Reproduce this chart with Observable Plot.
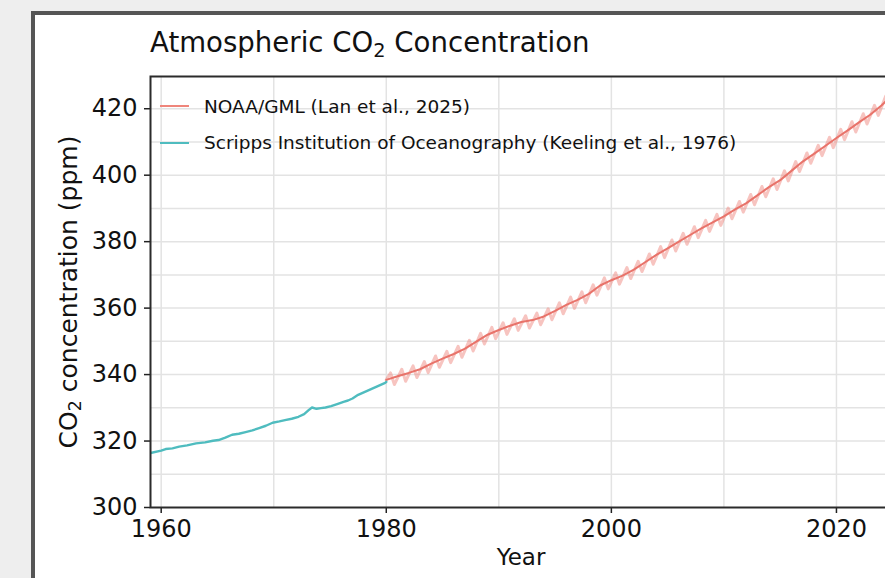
<!DOCTYPE html>
<html><head><meta charset="utf-8">
<script src="https://cdn.jsdelivr.net/npm/d3@7"></script>
<script src="https://cdn.jsdelivr.net/npm/@observablehq/plot@0.6"></script>
<style>
html,body{margin:0;padding:0;width:885px;height:578px;overflow:hidden;background:#eeeeee;font-family:"DejaVu Sans",sans-serif;}
#panel{position:absolute;left:31px;top:11px;width:1000px;height:700px;background:#fff;border:4px solid #555;box-sizing:border-box;}
#chart{position:absolute;left:0;top:0;width:960px;height:578px;}
#chart svg{max-width:none !important;width:960px;height:578px;}
.t{position:absolute;white-space:nowrap;color:#111;}
.t sub{font-size:70%;vertical-align:-0.25em;line-height:0;}
.lg{position:absolute;height:2px;width:29px;left:160px;}
</style></head><body>
<div id="panel"></div>
<div id="chart"></div>
<div class="t" style="left:150px;top:28.8px;font-size:27.6px;line-height:27.6px;">Atmospheric CO<sub>2</sub> Concentration</div>
<div class="t" style="left:68.4px;top:291.5px;font-size:25px;line-height:25px;transform:translate(-50%,-50%) rotate(-90deg);">CO<sub>2</sub> concentration (ppm)</div>
<div class="t" style="left:521px;top:545.5px;font-size:23px;line-height:23px;transform:translateX(-50%);">Year</div>
<div class="lg" style="top:105.3px;background:#ef857b;"></div>
<div class="t" style="left:204px;top:97.6px;font-size:18.5px;line-height:18.5px;">NOAA/GML (Lan et al., 2025)</div>
<div class="lg" style="top:141.7px;background:#4fbcbf;"></div>
<div class="t" style="left:204px;top:134px;font-size:18.5px;line-height:18.5px;">Scripps Institution of Oceanography (Keeling et al., 1976)</div>
<script>
// Scripps (Keeling et al., 1976)
const scrippsYear = [1959.05, 1960.0, 1960.4, 1961.0, 1961.6, 1962.3, 1963.1, 1963.9, 1964.6, 1965.1, 1965.7, 1966.3, 1966.9, 1967.5, 1968.1, 1968.7, 1969.3, 1969.9, 1970.5, 1971.0, 1971.6, 1972.2, 1972.7, 1973.1, 1973.4, 1973.8, 1974.2, 1974.6, 1975.1, 1975.7, 1976.2, 1976.6, 1977.0, 1977.5, 1978.1, 1978.7, 1979.3, 1979.9, 1980.0];
const scrippsCO2  = [316.4, 317.1, 317.6, 317.8, 318.3, 318.7, 319.3, 319.6, 320.1, 320.3, 321.0, 321.9, 322.2, 322.7, 323.2, 323.9, 324.6, 325.5, 325.9, 326.3, 326.7, 327.3, 328.1, 329.3, 330.1, 329.7, 329.9, 330.1, 330.5, 331.2, 331.8, 332.2, 332.8, 333.9, 334.8, 335.7, 336.6, 337.5, 337.8];

// NOAA/GML (Lan et al., 2025) — deseasonalized trend at the start of each year
const noaaYear  = [1980,1981,1982,1983,1984,1985,1986,1987,1988,1989,1990,1991,1992,1993,1994,1995,1996,1997,1998,1999,2000,2001,2002,2003,2004,2005,2006,2007,2008,2009,2010,2011,2012,2013,2014,2015,2016,2017,2018,2019,2020,2021,2022,2023,2024,2025];
const noaaTrend = [338.4,339.5,340.5,341.6,343.3,344.8,346.2,347.8,349.9,352.0,353.4,354.7,355.8,356.4,357.5,359.2,361.0,362.5,364.3,366.8,368.4,369.8,371.6,373.8,376.0,378.0,380.0,382.0,384.0,385.8,387.6,389.7,391.6,394.0,396.4,398.5,401.3,404.1,406.4,408.8,411.2,413.5,415.9,418.2,421.0,424.2];
// NOAA monthly means — seasonal maximum (~May) and minimum (~Sep) of each year
const noaaPeak   = [340.5,341.6,342.6,343.9,345.6,347.0,348.5,350.3,352.4,354.2,355.6,356.8,357.7,358.5,359.8,361.6,363.3,364.9,367.0,369.1,370.6,372.2,374.1,376.3,378.5,380.5,382.5,384.5,386.4,388.2,390.1,392.1,394.2,396.6,398.9,401.3,404.1,406.7,409.0,411.4,413.8,416.1,418.5,421.0,423.8];
const noaaTrough = [337.0,338.0,339.1,340.6,342.2,343.6,345.2,347.1,349.2,350.8,352.1,353.3,354.0,355.0,356.5,358.3,359.9,361.6,363.9,365.8,367.2,368.9,371.0,373.2,375.2,377.2,379.2,381.2,383.1,384.9,386.9,388.9,391.1,393.5,395.7,398.3,401.1,403.6,405.9,408.3,410.7,413.0,415.4,418.0,421.0];
const peakPhase = 0.38, troughPhase = 0.72; // fraction of year for seasonal max / min

const yTicks = [300,320,340,360,380,400,420];
const xTicks = [1960,1980,2000,2020];

const scripps = scrippsYear.map((x,i)=>({x, y: scrippsCO2[i]}));
const trend = noaaYear.map((x,i)=>({x, y: noaaTrend[i]}));
const raw = [{x: noaaYear[0], y: noaaTrend[0]}];
noaaPeak.forEach((p,i)=>{
  raw.push({x: noaaYear[i]+peakPhase, y: p});
  raw.push({x: noaaYear[i]+troughPhase, y: noaaTrough[i]});
});

const chart = Plot.plot({
  width: 960, height: 578,
  marginLeft: 150, marginTop: 76, marginBottom: 71, marginRight: 50,
  style: {background: "transparent", fontFamily: "DejaVu Sans", color: "#111", overflow: "visible", maxWidth: "none"},
  x: {domain: [1959.05, 2026.58]},
  y: {domain: [300, 429.7]},
  marks: [
    Plot.gridX(d3.range(1960, 2030, 10), {stroke: "#e3e3e3", strokeOpacity: 1, strokeWidth: 1.5}),
    Plot.gridY(d3.range(310, 430, 10), {stroke: "#e3e3e3", strokeOpacity: 1, strokeWidth: 1.5}),
    Plot.line(raw, {x: "x", y: "y", stroke: "#ef8a82", strokeOpacity: 0.5, strokeWidth: 3, clip: true}),
    Plot.line(trend, {x: "x", y: "y", stroke: "#e8736a", strokeWidth: 2, clip: true}),
    Plot.line(scripps, {x: "x", y: "y", stroke: "#4fbcbf", strokeWidth: 2.4, clip: true}),
    Plot.axisY(yTicks, {tickSize: 6, tickPadding: 7, fontSize: 24, stroke: "#222", strokeWidth: 1.5, label: null}),
    Plot.axisX(xTicks, {tickSize: 6, tickPadding: 6.5, fontSize: 24, stroke: "#222", strokeWidth: 1.5, tickFormat: d => String(d), label: null}),
    Plot.frame({stroke: "#2b2b2b", strokeWidth: 2})
  ]
});
document.getElementById("chart").appendChild(chart);
</script>
</body></html>
